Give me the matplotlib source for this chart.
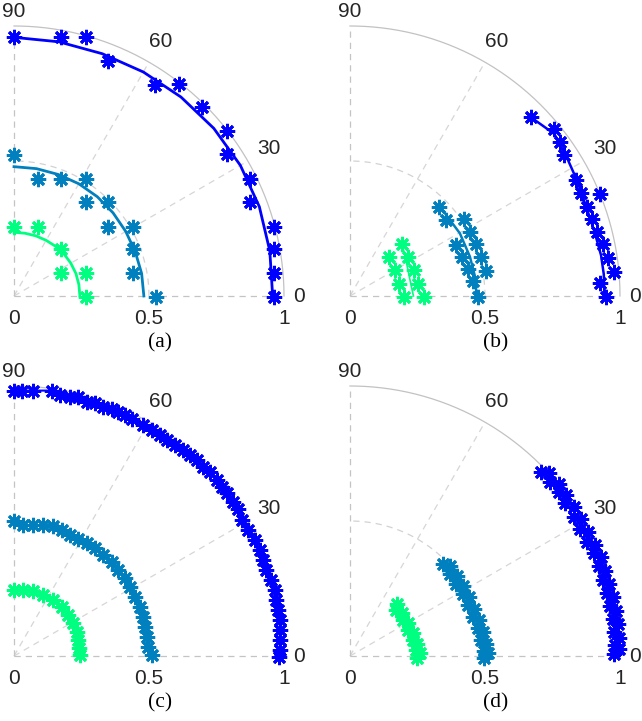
import numpy as np
import matplotlib
matplotlib.use("Agg")
import matplotlib.pyplot as plt

W, H, DPI = 642, 721, 100
BLUE, TEAL, GREEN = "#0000FF", "#0080BF", "#00FF80"
TXT = "#262626"

# ---------------- panel (a) ----------------
a_blue_x = [0.000, 0.174, 0.265, 0.349, 0.522, 0.611, 0.698, 0.788, 0.788, 0.874, 0.874, 0.963, 0.963, 0.963, 0.963]
a_blue_y = [0.958, 0.960, 0.960, 0.870, 0.781, 0.785, 0.699, 0.611, 0.526, 0.433, 0.349, 0.257, 0.173, 0.084, -0.005]
a_teal_x = [0.000, 0.090, 0.174, 0.265, 0.265, 0.349, 0.349, 0.442, 0.442, 0.442, 0.525]
a_teal_y = [0.522, 0.433, 0.433, 0.433, 0.347, 0.347, 0.257, 0.257, 0.173, 0.084, -0.002]
a_green_x = [0.000, 0.090, 0.174, 0.174, 0.265, 0.265]
a_green_y = [0.257, 0.257, 0.173, 0.084, 0.084, -0.002]
# fitted curves of (a): radius read at angles 0..90 deg
fit_deg = [0, 10, 20, 30, 40, 50, 60, 70, 80, 90]
a_blue_fit_r = [0.958, 0.962, 0.967, 0.968, 0.966, 0.962, 0.958, 0.955, 0.956, 0.958]
a_teal_fit_r = [0.481, 0.480, 0.478, 0.478, 0.479, 0.480, 0.480, 0.479, 0.479, 0.479]
a_green_fit_r = [0.244, 0.244, 0.244, 0.243, 0.242, 0.240, 0.238, 0.237, 0.236, 0.236]

# ---------------- panel (b) ----------------
b_blue_x = [0.670, 0.757, 0.778, 0.794, 0.837, 0.856, 0.926, 0.877, 0.895, 0.914, 0.938, 0.957, 0.979, 0.926, 0.948]
b_blue_y = [0.662, 0.617, 0.572, 0.522, 0.430, 0.380, 0.378, 0.331, 0.284, 0.238, 0.193, 0.140, 0.090, 0.049, -0.002]
b_blue_line_x = [0.670, 0.757, 0.800, 0.840, 0.875, 0.905, 0.930, 0.940, 0.942]
b_blue_line_y = [0.662, 0.600, 0.520, 0.430, 0.330, 0.240, 0.150, 0.080, 0.000]
b_teal_x = [0.331, 0.356, 0.423, 0.444, 0.467, 0.393, 0.414, 0.485, 0.436, 0.504, 0.454, 0.473]
b_teal_y = [0.331, 0.281, 0.284, 0.238, 0.193, 0.189, 0.143, 0.146, 0.099, 0.094, 0.057, -0.002]
b_teal_line_x = [0.331, 0.352, 0.407, 0.444, 0.463, 0.469]
b_teal_line_y = [0.331, 0.306, 0.232, 0.146, 0.072, 0.000]
b_green_x = [0.193, 0.143, 0.165, 0.215, 0.180, 0.236, 0.200, 0.252, 0.273]
b_green_y = [0.191, 0.143, 0.095, 0.143, 0.046, 0.095, -0.002, 0.046, -0.002]
b_green_line_x = [0.193, 0.205, 0.215, 0.225, 0.235]
b_green_line_y = [0.191, 0.143, 0.095, 0.046, 0.000]

# ---------------- panel (c) ----------------
c_blue_x = [0.000, 0.030, 0.072, 0.140, 0.170, 0.207, 0.238, 0.269, 0.300, 0.331, 0.362, 0.386, 0.411,
            0.436, 0.479, 0.510, 0.541, 0.565, 0.596, 0.627, 0.652, 0.677, 0.701, 0.726, 0.751, 0.769,
            0.788, 0.812, 0.830, 0.843, 0.867, 0.891, 0.910, 0.922, 0.935, 0.953, 0.965, 0.972, 0.978,
            0.984, 0.984, 0.984, 0.984, 0.981]
c_blue_y = [0.983, 0.983, 0.983, 0.983, 0.967, 0.960, 0.960, 0.942, 0.936, 0.923, 0.914, 0.905, 0.893,
            0.877, 0.856, 0.837, 0.819, 0.800, 0.781, 0.763, 0.744, 0.726, 0.701, 0.683, 0.652, 0.627,
            0.602, 0.571, 0.546, 0.504, 0.467, 0.430, 0.393, 0.356, 0.319, 0.281, 0.244, 0.207, 0.170,
            0.133, 0.096, 0.059, 0.022, -0.005]
c_teal_x = [0.000, 0.035, 0.072, 0.109, 0.146, 0.177, 0.207, 0.238, 0.269, 0.300, 0.331, 0.362, 0.386,
            0.411, 0.430, 0.448, 0.467, 0.479, 0.485, 0.491, 0.498, 0.510]
c_teal_y = [0.501, 0.485, 0.485, 0.485, 0.481, 0.467, 0.448, 0.432, 0.417, 0.399, 0.374, 0.349, 0.319,
            0.288, 0.257, 0.220, 0.183, 0.146, 0.109, 0.072, 0.035, 0.004]
c_green_x = [0.000, 0.035, 0.072, 0.109, 0.146, 0.177, 0.201, 0.220, 0.232, 0.238, 0.242, 0.244]
c_green_y = [0.244, 0.244, 0.242, 0.226, 0.207, 0.183, 0.152, 0.121, 0.090, 0.059, 0.028, 0.004]

# ---------------- panel (d) ----------------
d_blue_x = [0.708, 0.742, 0.773, 0.798, 0.828, 0.853, 0.878, 0.902, 0.921, 0.937, 0.952, 0.964, 0.974,
            0.979, 0.980, 0.978,
            0.738, 0.773, 0.801, 0.830, 0.857, 0.882, 0.906, 0.928, 0.945, 0.960, 0.973, 0.985, 0.994,
            0.998, 0.998]
d_blue_y = [0.682, 0.645, 0.607, 0.565, 0.515, 0.472, 0.424, 0.380, 0.332, 0.283, 0.234, 0.185, 0.137,
            0.088, 0.040, 0.008,
            0.676, 0.638, 0.598, 0.553, 0.506, 0.459, 0.412, 0.365, 0.316, 0.267, 0.218, 0.168, 0.118,
            0.068, 0.025]
d_teal_x = [0.345, 0.369, 0.393, 0.417, 0.436, 0.455, 0.473, 0.486, 0.495, 0.498,
            0.372, 0.396, 0.420, 0.442, 0.460, 0.479, 0.494, 0.505, 0.510]
d_teal_y = [0.342, 0.305, 0.268, 0.231, 0.188, 0.146, 0.103, 0.060, 0.018, -0.006,
            0.333, 0.296, 0.258, 0.218, 0.175, 0.132, 0.088, 0.045, 0.010]
d_green_x = [0.173, 0.172, 0.196, 0.214, 0.233, 0.245, 0.250,
             0.192, 0.214, 0.232, 0.249, 0.258]
d_green_y = [0.193, 0.170, 0.135, 0.098, 0.060, 0.024, -0.006,
             0.160, 0.122, 0.085, 0.046, 0.010]

angle_ticks = [0, 30, 60, 90]
angle_label_r = [1.056, 1.09, 1.09, 1.053]
radius_ticks = [0, 0.5, 1]
radius_labels = ["0", "0.5", "1"]
captions = ["(a)", "(b)", "(c)", "(d)"]
origins = [(14, 296), (350, 296), (14, 656), (350, 656)]
SCALE = 270

fig = plt.figure(figsize=(W / DPI, H / DPI), dpi=DPI)

def make_ax(ox, oy, s=SCALE):
    xmin, xmax, ymin, ymax = -0.06, 1.16, -0.22, 1.10
    left = (ox + xmin * s) / W
    bottom = (H - (oy - ymin * s)) / H
    ax = fig.add_axes([left, bottom, (xmax - xmin) * s / W, (ymax - ymin) * s / H])
    ax.set_xlim(xmin, xmax)
    ax.set_ylim(ymin, ymax)
    ax.set_aspect("auto")
    ax.axis("off")
    ax.patch.set_alpha(0)
    return ax

def draw_grid(ax, cap):
    t = np.linspace(0, np.pi / 2, 200)
    ax.plot(np.cos(t), np.sin(t), color="#C2C2C2", lw=0.9, zorder=1, clip_on=False)
    ax.plot(0.5 * np.cos(t), 0.5 * np.sin(t), color="#D2D2D2", lw=0.9, ls=(0, (5, 4)), zorder=1, clip_on=False)
    for a in angle_ticks:
        ar = np.deg2rad(a)
        c = "#C4C4C4" if a in (0, 90) else "#D6D6D6"
        ax.plot([0, np.cos(ar)], [0, np.sin(ar)], color=c, lw=0.9, ls=(0, (5, 4)), zorder=1, clip_on=False)
    for a, lr in zip(angle_ticks, angle_label_r):
        ar = np.deg2rad(a)
        ax.text(lr * np.cos(ar), lr * np.sin(ar), str(a), ha="center", va="center",
                fontsize=15, color=TXT, family="Liberation Sans")
    for r, lab in zip(radius_ticks, radius_labels):
        ax.text(r, -0.085, lab, ha="center", va="center", fontsize=15, color=TXT, family="Liberation Sans")
    ax.text(0.541, -0.174, cap, ha="center", va="center", fontsize=15.5, color="black", family="Liberation Serif")

MK = dict(marker=(8, 2, 0), ms=11, mew=2.0, ls="none", zorder=3, clip_on=False)

def stars(ax, x, y, col):
    ax.plot(x, y, color=col, mec=col, **MK)

def line(ax, x, y, col, lw=1.8):
    ax.plot(x, y, color=col, lw=lw, zorder=4, clip_on=False)

def fit(ax, rr, col):
    t = np.deg2rad(fit_deg)
    line(ax, np.array(rr) * np.cos(t), np.array(rr) * np.sin(t), col, lw=2.0)

axes = [make_ax(*o) for o in origins]
for ax, cap in zip(axes, captions):
    draw_grid(ax, cap)

# (a)
ax = axes[0]
stars(ax, a_blue_x, a_blue_y, BLUE); fit(ax, a_blue_fit_r, BLUE)
stars(ax, a_teal_x, a_teal_y, TEAL); fit(ax, a_teal_fit_r, TEAL)
stars(ax, a_green_x, a_green_y, GREEN); fit(ax, a_green_fit_r, GREEN)

# (b)
ax = axes[1]
stars(ax, b_blue_x, b_blue_y, BLUE); line(ax, b_blue_line_x, b_blue_line_y, BLUE)
stars(ax, b_teal_x, b_teal_y, TEAL); line(ax, b_teal_line_x, b_teal_line_y, TEAL)
stars(ax, b_green_x, b_green_y, GREEN); line(ax, b_green_line_x, b_green_line_y, GREEN, lw=1.2)

# (c)
ax = axes[2]
for xs, ys, col in [(c_blue_x, c_blue_y, BLUE), (c_teal_x, c_teal_y, TEAL), (c_green_x, c_green_y, GREEN)]:
    line(ax, xs, ys, col, lw=1.5)
    stars(ax, xs, ys, col)

# (d)
ax = axes[3]
for xs, ys, col in [(d_blue_x, d_blue_y, BLUE), (d_teal_x, d_teal_y, TEAL), (d_green_x, d_green_y, GREEN)]:
    stars(ax, xs, ys, col)

fig.savefig("out.png", dpi=DPI)
